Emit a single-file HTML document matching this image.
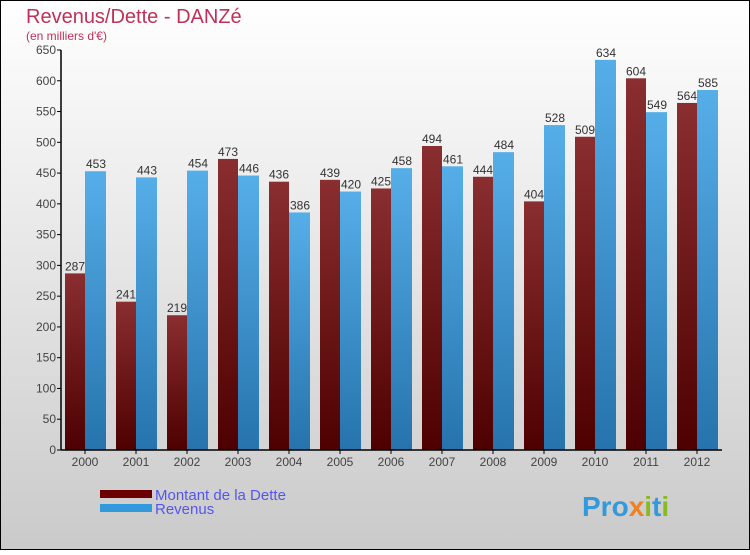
<!DOCTYPE html>
<html><head><meta charset="utf-8"><style>
html,body{margin:0;padding:0}
body{width:750px;height:550px;overflow:hidden;font-family:"Liberation Sans",sans-serif}
</style></head><body>
<svg id="chart" width="750" height="550" xmlns="http://www.w3.org/2000/svg">
<defs>
<linearGradient id="bg" x1="0" y1="0" x2="0" y2="1"><stop offset="0" stop-color="#ffffff"/><stop offset="1" stop-color="#cacaca"/></linearGradient>
<linearGradient id="gd" x1="0" y1="0" x2="0" y2="1"><stop offset="0" stop-color="#8a2e30"/><stop offset="1" stop-color="#4e0000"/></linearGradient>
<linearGradient id="gr" x1="0" y1="0" x2="0" y2="1"><stop offset="0" stop-color="#56aee8"/><stop offset="1" stop-color="#2673ad"/></linearGradient>
</defs>
<rect x="0.5" y="0.5" width="749" height="549" fill="url(#bg)" stroke="#000"/>
<text x="26" y="23" font-size="20" fill="#c0305a">Revenus/Dette - DANZé</text>
<text x="26" y="40" font-size="12" fill="#c0305a">(en milliers d'€)</text>
<g id="plot"></g>
<rect x="100" y="490" width="52" height="8" fill="#6a0000"/>
<text x="155" y="500" font-size="15" fill="#5555ee">Montant de la Dette</text>
<rect x="100" y="504" width="52" height="8" fill="#3399dd"/>
<text x="155" y="514" font-size="15" fill="#5555ee">Revenus</text>
<text x="582" y="516" font-size="28" font-weight="bold" fill="#3399dd">Pro<tspan fill="#f08020">x</tspan><tspan fill="#88bb22">i</tspan>t<tspan fill="#88bb22">i</tspan></text>
</svg>
<script>
const years=["2000","2001","2002","2003","2004","2005","2006","2007","2008","2009","2010","2011","2012"];
const dette=[287,241,219,473,436,439,425,494,444,404,509,604,564];
const revenus=[453,443,454,446,386,420,458,461,484,528,634,549,585];
const yTicks=[0,50,100,150,200,250,300,350,400,450,500,550,600,650];
const NS="http://www.w3.org/2000/svg";
const g=document.getElementById('plot');
const y0=450,pxPer=400/650,x0=61,pitch=51;
const yS=v=>y0-v*pxPer;
const xS=i=>x0+4+i*pitch;
function mk(t,a){const e=document.createElementNS(NS,t);for(const k in a)e.setAttribute(k,a[k]);g.appendChild(e);return e;}
yTicks.forEach(v=>{
  const l=mk('line',{x1:x0-4,x2:x0,y1:yS(v),y2:yS(v),stroke:'#000'});
  
  
  const t=mk('text',{x:x0-5,y:yS(v)+4,'font-size':12,'text-anchor':'end',fill:'#444'});
  t.textContent=v;
  
  
});
years.forEach((yr,i)=>{
  const x=xS(i);
  const bd=mk('rect',{x:x,y:yS(dette[i]),width:20,height:dette[i]*pxPer,fill:'url(#gd)'});
  
  
  const br=mk('rect',{x:x+20,y:yS(revenus[i]),width:21,height:revenus[i]*pxPer,fill:'url(#gr)'});
  
  
  const td=mk('text',{x:x+10,y:yS(dette[i])-3,'font-size':12,'text-anchor':'middle',fill:'#333'});
  td.textContent=dette[i];
  
  
  const tr=mk('text',{x:x+31,y:yS(revenus[i])-3,'font-size':12,'text-anchor':'middle',fill:'#333'});
  tr.textContent=revenus[i];
  
  
  const xl=mk('text',{x:x+20,y:466,'font-size':12,'text-anchor':'middle',fill:'#444'});
  xl.textContent=yr;
  
  
  const xt=mk('line',{x1:x+20,x2:x+20,y1:y0,y2:y0+4,stroke:'#000'});
  
  
});
const ya=mk('line',{x1:x0,x2:x0,y1:yS(650),y2:y0,stroke:'#000','stroke-width':1.5});


const xa=mk('line',{x1:x0,x2:722,y1:y0,y2:y0,stroke:'#000','stroke-width':1.5});


</script>
</body></html>
